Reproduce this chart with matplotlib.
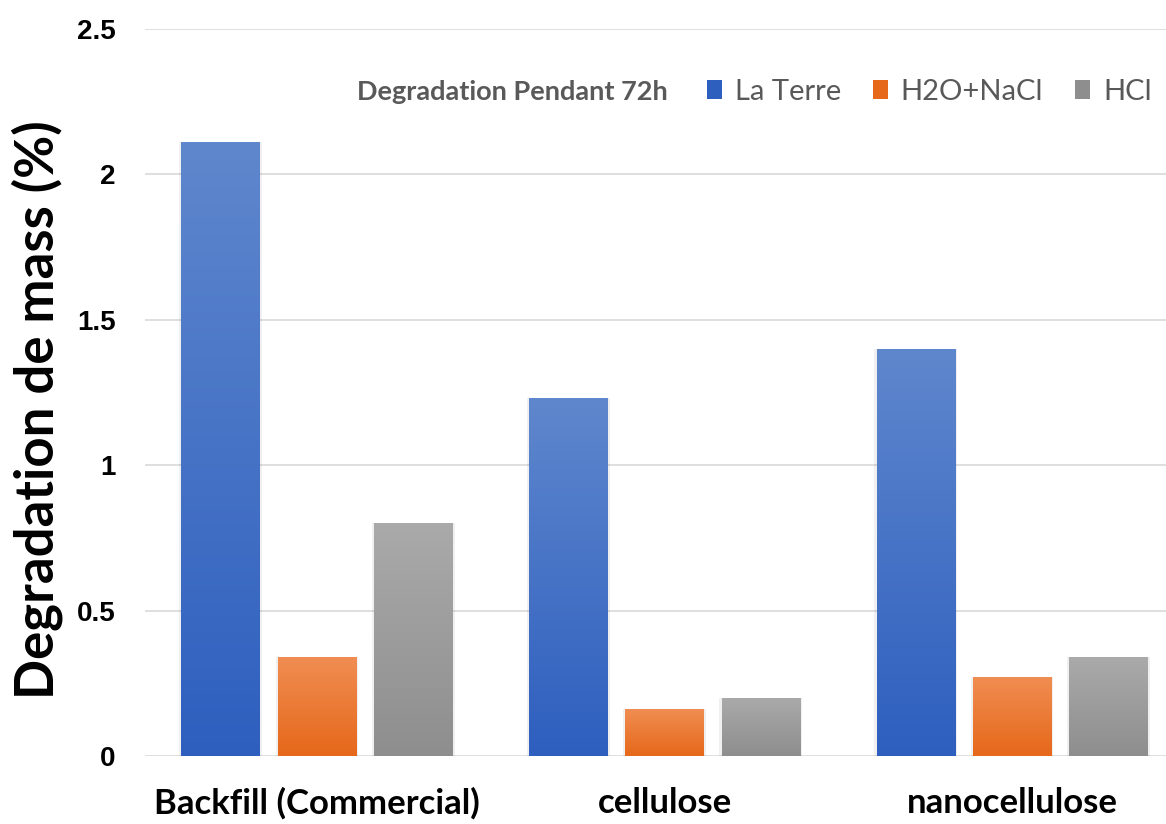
import matplotlib.pyplot as plt
import numpy as np
from matplotlib.colors import LinearSegmentedColormap
from matplotlib.patches import Patch

plt.rcParams['font.family'] = ['Lato', 'DejaVu Sans']

categories = ['Backfill (Commercial)', 'cellulose', 'nanocellulose']
series = ['La Terre', 'H2O+NaCl', 'HCl']
la_terre = [2.11, 1.23, 1.40]
h2o_nacl = [0.34, 0.16, 0.27]
hcl = [0.80, 0.20, 0.34]
y_ticks = [0, 0.5, 1, 1.5, 2, 2.5]
y_tick_labels = ['0', '0.5', '1', '1.5', '2', '2.5']

# top / bottom colours of each gradient fill
grad = {
    'La Terre': ('#5f87cd', '#2e5fbf'),
    'H2O+NaCl': ('#f08d52', '#e6681a'),
    'HCl': ('#aaaaaa', '#8e8e8e'),
}

fig = plt.figure(figsize=(11.66, 8.24), dpi=100)
ax = fig.add_axes([145 / 1166, 1 - 756 / 824, 1 - 145 / 1166, (756 - 29) / 824])

x = np.arange(len(categories))
width = 0.226
step = 0.277
values = [la_terre, h2o_nacl, hcl]

for i, (name, vals) in enumerate(zip(series, values)):
    top, bottom = grad[name]
    cmap = LinearSegmentedColormap.from_list(name, [bottom, top])
    bars = ax.bar(x + (i - 1) * step, vals, width, color='none', edgecolor='none', zorder=3)
    for b in bars:
        x0, y0 = b.get_x(), b.get_y()
        w, h = b.get_width(), b.get_height()
        # soft shadow around the bar
        ax.bar(x0 + w / 2, h, w + 0.012, color='#000000', alpha=0.06, zorder=2)
        im = ax.imshow(np.linspace(0, 1, 256).reshape(-1, 1), cmap=cmap,
                       extent=[x0, x0 + w, y0, y0 + h], origin='lower',
                       aspect='auto', zorder=3)
        im.set_clip_path(b)

ax.set_xlim(-0.495, 2.443)
ax.set_ylim(0, 2.5)
ax.set_yticks(y_ticks)
ax.set_yticklabels(y_tick_labels, family=['Liberation Sans', 'DejaVu Sans'],
                   fontweight='bold', fontsize=20)
ax.set_xticks(x)
ax.set_xticklabels(categories, fontweight='bold', fontsize=25)
ax.tick_params(axis='both', length=0)
ax.tick_params(axis='y', pad=21)
ax.tick_params(axis='x', pad=22)
ax.grid(axis='y', color='#d9d9d9', linewidth=1.2, zorder=0)
ax.set_axisbelow(True)
for s in ax.spines.values():
    s.set_visible(False)

fig.text(0.032, 1 - 410 / 824, 'Degradation de mass (%)', rotation=90,
         fontsize=38, fontweight='bold', ha='center', va='center')

fig.text(668 / 1166, 1 - 92 / 824, 'Degradation Pendant 72h', color='#595959',
         fontsize=19.5, fontweight='bold', ha='right', va='center')
handles = [Patch(facecolor=grad[s][1], label=s) for s in series]
ax.legend(handles=handles, ncol=3, loc='center right',
          bbox_to_anchor=(1.0, 1 - (92 - 29) / (756 - 29)),
          frameon=False, fontsize=21, labelcolor='#595959',
          handlelength=0.5, handleheight=0.6, handletextpad=0.45,
          columnspacing=1.1, borderaxespad=0.1)

fig.savefig('out.png', dpi=100)
